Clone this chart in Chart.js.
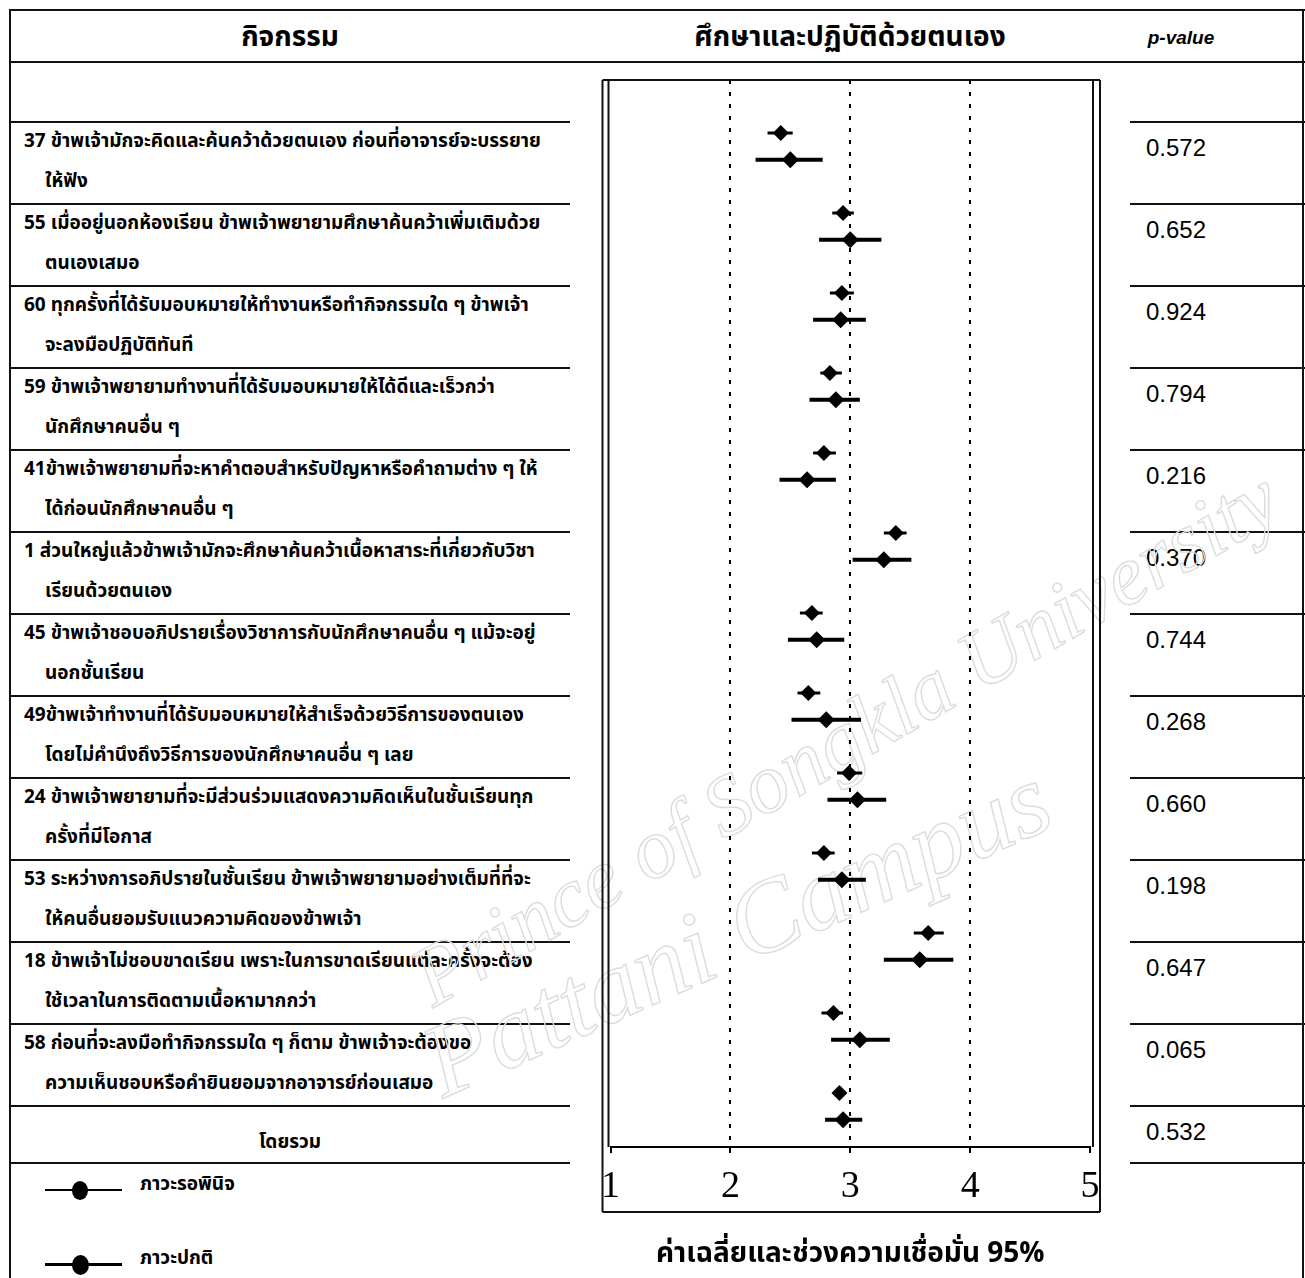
<!DOCTYPE html>
<html lang="th">
<head>
<meta charset="utf-8">
<script src="https://cdn.jsdelivr.net/npm/chart.js@4.4.1/dist/chart.umd.min.js"></script>
<style>
  html, body { margin: 0; padding: 0; background: #fff; }
  #page { position: relative; width: 1305px; height: 1278px; overflow: hidden; background: #fff;
          font-family: "Noto Sans Thai", "Loma", "Garuda", "Tlwg Typo", "Noto Sans", sans-serif; color: #000; }
  .hl { position: absolute; height: 2px; background: #111; }
  .vl { position: absolute; width: 2px; background: #111; }
  .t1, .t2 { position: absolute; font-size: 19px; font-weight: 700; white-space: nowrap; line-height: 1; transform: translateY(-50%); }
  .pv { position: absolute; left: 1146px; font-family: "Liberation Sans", Arial, sans-serif; font-size: 24px; transform: translateY(-50%); line-height: 1; }
  .hdr { position: absolute; font-weight: 700; font-size: 28px; transform: translate(-50%, -50%); line-height: 1; white-space: nowrap; }
  #cwrap { position: absolute; left: 590px; top: 60px; width: 530px; height: 1218px; z-index: 2; }
  .wm { position: absolute; font-family: "Liberation Serif", serif; font-style: italic; color: transparent; z-index: 1;
        -webkit-text-stroke: 1.4px #dcdcdc; white-space: nowrap; transform-origin: 0 100%; pointer-events: none; line-height: 1; }
</style>
</head>
<body>
<div id="page">
  <div id="cwrap"><canvas id="c" width="530" height="1218"></canvas></div>
</div>
<script>
// ---------------- data ----------------
const activityLabels = [
  ["37 ข้าพเจ้ามักจะคิดและค้นคว้าด้วยตนเอง ก่อนที่อาจารย์จะบรรยาย", "ให้ฟัง"],
  ["55 เมื่ออยู่นอกห้องเรียน ข้าพเจ้าพยายามศึกษาค้นคว้าเพิ่มเติมด้วย", "ตนเองเสมอ"],
  ["60 ทุกครั้งที่ได้รับมอบหมายให้ทำงานหรือทำกิจกรรมใด ๆ ข้าพเจ้า", "จะลงมือปฏิบัติทันที"],
  ["59 ข้าพเจ้าพยายามทำงานที่ได้รับมอบหมายให้ได้ดีและเร็วกว่า", "นักศึกษาคนอื่น ๆ"],
  ["41ข้าพเจ้าพยายามที่จะหาคำตอบสำหรับปัญหาหรือคำถามต่าง ๆ ให้", "ได้ก่อนนักศึกษาคนอื่น ๆ"],
  ["1 ส่วนใหญ่แล้วข้าพเจ้ามักจะศึกษาค้นคว้าเนื้อหาสาระที่เกี่ยวกับวิชา", "เรียนด้วยตนเอง"],
  ["45 ข้าพเจ้าชอบอภิปรายเรื่องวิชาการกับนักศึกษาคนอื่น ๆ แม้จะอยู่", "นอกชั้นเรียน"],
  ["49ข้าพเจ้าทำงานที่ได้รับมอบหมายให้สำเร็จด้วยวิธีการของตนเอง", "โดยไม่คำนึงถึงวิธีการของนักศึกษาคนอื่น ๆ เลย"],
  ["24 ข้าพเจ้าพยายามที่จะมีส่วนร่วมแสดงความคิดเห็นในชั้นเรียนทุก", "ครั้งที่มีโอกาส"],
  ["53 ระหว่างการอภิปรายในชั้นเรียน ข้าพเจ้าพยายามอย่างเต็มที่ที่จะ", "ให้คนอื่นยอมรับแนวความคิดของข้าพเจ้า"],
  ["18 ข้าพเจ้าไม่ชอบขาดเรียน เพราะในการขาดเรียนแต่ละครั้งจะต้อง", "ใช้เวลาในการติดตามเนื้อหามากกว่า"],
  ["58 ก่อนที่จะลงมือทำกิจกรรมใด ๆ ก็ตาม ข้าพเจ้าจะต้องขอ", "ความเห็นชอบหรือคำยินยอมจากอาจารย์ก่อนเสมอ"]
];
const overallLabel = "โดยรวม";
const seriesNames = ["ภาวะรอพินิจ", "ภาวะปกติ"];

const probationMean = [2.42, 2.94, 2.93, 2.83, 2.78, 3.38, 2.68, 2.65, 2.99, 2.78, 3.65, 2.86, 2.91];
const probationLow  = [2.31, 2.85, 2.83, 2.75, 2.69, 3.28, 2.58, 2.56, 2.89, 2.68, 3.53, 2.76, 2.87];
const probationHigh = [2.52, 3.03, 3.03, 2.93, 2.88, 3.47, 2.77, 2.75, 3.10, 2.87, 3.78, 2.94, 2.96];

const normalMean = [2.50, 3.00, 2.92, 2.88, 2.64, 3.28, 2.72, 2.80, 3.06, 2.93, 3.58, 3.08, 2.94];
const normalLow  = [2.21, 2.74, 2.69, 2.66, 2.41, 3.02, 2.48, 2.51, 2.81, 2.73, 3.28, 2.84, 2.79];
const normalHigh = [2.77, 3.26, 3.13, 3.08, 2.88, 3.51, 2.95, 3.09, 3.30, 3.13, 3.86, 3.33, 3.10];

const pValues = ["0.572", "0.652", "0.924", "0.794", "0.216", "0.370", "0.744", "0.268", "0.660", "0.198", "0.647", "0.065", "0.532"];
const xTickValues = [1, 2, 3, 4, 5];

const headerActivity = "กิจกรรม";
const headerPlot = "ศึกษาและปฏิบัติด้วยตนเอง";
const headerP = "p-value";
const axisTitle = "ค่าเฉลี่ยและช่วงความเชื่อมั่น 95%";
const watermark1 = "Prince of Songkla University";
const watermark2 = "Pattani Campus";

// ---------------- layout (table) ----------------
const page = document.getElementById('page');
function el(cls, css, text) {
  const d = document.createElement('div');
  d.className = cls;
  Object.assign(d.style, css);
  if (text !== undefined) d.textContent = text;
  page.appendChild(d);
  return d;
}
const ROW0 = 122, ROWH = 82;
// outer frame lines
el('hl', { left: '10px', top: '9px', width: '1295px' });
el('hl', { left: '10px', top: '61px', width: '1295px' });
el('vl', { left: '9px', top: '9px', height: '1269px' });
el('vl', { left: '1302px', top: '9px', height: '1269px' });
// headers
el('hdr', { left: '290px', top: '38px' }, headerActivity);
el('hdr', { left: '850px', top: '38px' }, headerPlot);
el('hdr', { left: '1181px', top: '37px', fontSize: '19px', fontStyle: 'italic', fontFamily: '"Liberation Sans", Arial, sans-serif' }, headerP);
// row lines
const nRows = activityLabels.length + 1;
for (let k = 0; k <= nRows; k++) {
  const y = k < nRows ? ROW0 + ROWH * k : ROW0 + ROWH * (nRows - 1) + 57;
  el('hl', { left: '10px', top: (y - 1) + 'px', width: '560px' });
  el('hl', { left: '1130px', top: (y - 1) + 'px', width: '175px' });
}
activityLabels.forEach((lines, i) => {
  const top = ROW0 + ROWH * i;
  el('t1', { left: '24px', top: (top + 19) + 'px' }, lines[0]);
  el('t2', { left: '45px', top: (top + 59) + 'px' }, lines[1]);
});
el('hdr', { left: '290px', top: (ROW0 + ROWH * 12 + 36) + 'px', fontSize: '19px' }, overallLabel);
pValues.forEach((p, i) => {
  el('pv', { top: (ROW0 + ROWH * i + 26) + 'px' }, p);
});
// legend
function legendItem(y, lw, dia, text) {
  el('hl', { left: '45px', top: (y - lw / 2) + 'px', width: '77px', height: lw + 'px', background: '#000' });
  el('', { position: 'absolute', left: (80 - dia / 2) + 'px', top: (y - dia / 2 - 1) + 'px', width: dia + 'px', height: (dia + 3) + 'px', borderRadius: '50%', background: '#000' });
  el('t1', { left: '140px', top: (y - 6) + 'px', fontSize: '19px' }, text);
}
legendItem(1190, 2, 16, seriesNames[0]);
legendItem(1264, 3, 17, seriesNames[1]);
// watermark (behind the chart canvas)
el('wm', { left: '440px', top: '935px', fontSize: '85px', transform: 'rotate(-30deg)' }, watermark1);
el('wm', { left: '450px', top: '1010px', fontSize: '104px', transform: 'rotate(-24deg)' }, watermark2);

// ---------------- chart ----------------
const LOWER_OFFSET = 0.335;
function rows(means, lows, highs, off) {
  return means.map((m, i) => ({ x: m, y: i + off, lo: lows[i], hi: highs[i] }));
}

const errorBars = {
  id: 'errorBars',
  beforeDatasetsDraw(chart) {
    const { ctx, scales: { x, y } } = chart;
    chart.data.datasets.forEach(ds => {
      ctx.save();
      ctx.strokeStyle = '#000';
      ctx.lineWidth = ds.ciWidth;
      ctx.lineCap = 'butt';
      ds.data.forEach(p => {
        const py = y.getPixelForValue(p.y);
        ctx.beginPath();
        ctx.moveTo(x.getPixelForValue(p.lo), py);
        ctx.lineTo(x.getPixelForValue(p.hi), py);
        ctx.stroke();
      });
      ctx.restore();
    });
  }
};

const plotFrame = {
  id: 'plotFrame',
  afterDraw(chart) {
    const { ctx, chartArea: a } = chart;
    const boxBottom = a.bottom + 65;
    ctx.save();
    ctx.strokeStyle = '#111';
    ctx.lineWidth = 2;
    ctx.beginPath();
    ctx.moveTo(a.left - 8, a.top); ctx.lineTo(a.right + 10, a.top);
    ctx.moveTo(a.left - 8, a.top); ctx.lineTo(a.left - 8, boxBottom);
    ctx.moveTo(a.right + 10, a.top); ctx.lineTo(a.right + 10, boxBottom);
    ctx.moveTo(a.left - 8, boxBottom); ctx.lineTo(a.right + 10, boxBottom);
    ctx.moveTo(a.left - 2, a.top); ctx.lineTo(a.left - 2, a.bottom);
    ctx.moveTo(a.right + 3, a.top); ctx.lineTo(a.right + 3, a.bottom);
    ctx.stroke();
    ctx.restore();
  }
};

new Chart(document.getElementById('c'), {
  type: 'scatter',
  data: {
    datasets: [
      { label: seriesNames[0], data: rows(probationMean, probationLow, probationHigh, 0),
        pointStyle: 'rectRot', pointRadius: 8, backgroundColor: '#000', borderColor: '#000', borderWidth: 0, ciWidth: 3 },
      { label: seriesNames[1], data: rows(normalMean, normalLow, normalHigh, LOWER_OFFSET),
        pointStyle: 'rectRot', pointRadius: 8.5, backgroundColor: '#000', borderColor: '#000', borderWidth: 0, ciWidth: 4 }
    ]
  },
  options: {
    responsive: false,
    animation: false,
    layout: { padding: { left: 20, right: 30, top: 20, bottom: 0 } },
    plugins: { legend: { display: false }, tooltip: { enabled: false } },
    scales: {
      x: {
        type: 'linear', min: 1, max: 5, position: 'bottom',
        afterBuildTicks: s => { s.ticks = xTickValues.map(v => ({ value: v })); },
        afterFit: s => { s.height = 131; },
        ticks: { color: '#000', font: { family: '"Liberation Serif", serif', size: 38 }, padding: 11,
                 callback: v => String(v) },
        grid: {
          color: c => (c.tick && (c.tick.value === 1 || c.tick.value === 5)) ? 'rgba(0,0,0,0)' : '#000',
          lineWidth: 2, drawTicks: true, tickLength: 6, tickColor: '#000', tickWidth: 2
        },
        border: { display: true, color: '#000', width: 2, dash: [4, 8] },
        title: { display: true, text: axisTitle, color: '#000',
                 font: { family: '"Noto Sans Thai", "Loma", "Garuda", "Noto Sans", sans-serif', size: 28, weight: 'bold' },
                 padding: { top: 0, bottom: 5 } }
      },
      y: {
        type: 'linear', reverse: true, min: -0.6625, max: 12.675, display: false
      }
    }
  },
  plugins: [errorBars, plotFrame]
});
</script>
</body>
</html>
